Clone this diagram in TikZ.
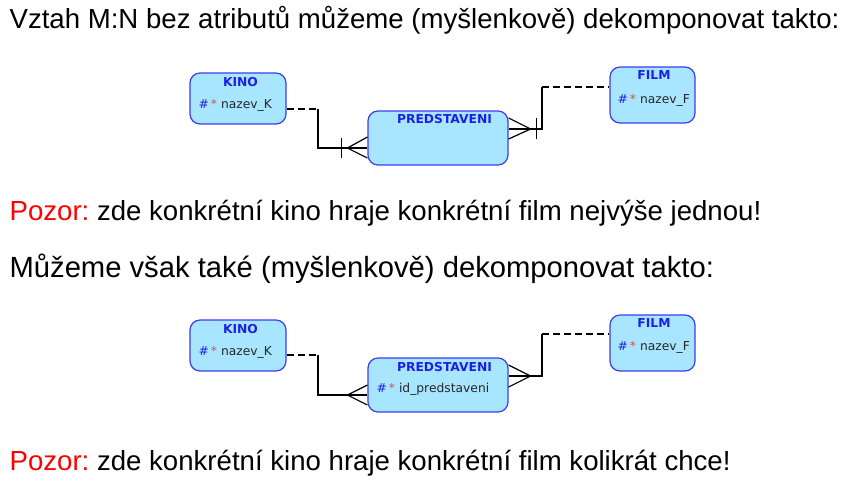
\documentclass[tikz,border=0pt]{standalone}
\usepackage{fontspec}
\setmainfont{Liberation Sans}
\newfontfamily\erfont{DejaVu Sans}
\definecolor{boxfill}{HTML}{A8E6FF}
\definecolor{boxline}{HTML}{3C3CF0}
\definecolor{titleblue}{HTML}{1E1EE8}
\definecolor{starred}{HTML}{D85050}
\newcommand{\attr}[1]{{\color{titleblue}\#}\,{\color{starred}*}\ {\color{black!85}#1}}
\frenchspacing

\begin{document}
\begin{tikzpicture}[
        x=1pt, y=-1pt,
        line width=1.2pt,
        entity/.style={draw=boxline, fill=boxfill, rounded corners=10pt, inner sep=0pt},
        entitle/.style={font=\erfont\bfseries\fontsize{12.3}{14}\selectfont, text=titleblue, inner sep=0pt},
        entattr/.style={font=\erfont\fontsize{12.3}{14}\selectfont, anchor=west, inner sep=0pt},
        optline/.style={dash pattern=on 7pt off 4pt},
        sentence/.style={font=\fontsize{27.6}{32}\selectfont, anchor=base west, inner sep=0pt}]
        \useasboundingbox (0,0) rectangle (845,480);

        % TEXT
        \node[sentence] (line1) at (9,28) {Vztah M:N bez atributů můžeme (myšlenkově) dekomponovat takto:};
        \node[sentence] (line2) at (9,220) {{\color{red}Pozor:} zde konkrétní kino hraje konkrétní film nejvýše jednou!};
        \node[sentence, font=\fontsize{29.2}{34}\selectfont] (line3) at (9,277) {Můžeme však také (myšlenkově) dekomponovat takto:};
        \node[sentence] (line4) at (9,470) {{\color{red}Pozor:} zde konkrétní kino hraje konkrétní film kolikrát chce!};

        % NODES (first diagram)
        % KINO
        \node[entity, minimum width=96pt, minimum height=51pt] (kinoA) at (238,98.5) {};
        \node[entitle] (kinoAt) at (240.5,82) {KINO};
        \node[entattr] (kinoAa) at (198,105) {\attr{nazev\_K}};
        % PREDSTAVENI
        \node[entity, minimum width=140pt, minimum height=54pt] (predA) at (438,138) {};
        \node[entitle] (predAt) at (444.5,119) {PREDSTAVENI};
        % FILM
        \node[entity, minimum width=85pt, minimum height=56pt] (filmA) at (652.5,95) {};
        \node[entitle] (filmAt) at (654,75) {FILM};
        \node[entattr] (filmAa) at (617,100) {\attr{nazev\_F}};

        % NODES (second diagram)
        % KINO
        \node[entity, minimum width=96pt, minimum height=51pt] (kinoB) at (238,345.5) {};
        \node[entitle] (kinoBt) at (240.5,329) {KINO};
        \node[entattr] (kinoBa) at (198,352) {\attr{nazev\_K}};
        % PREDSTAVENI
        \node[entity, minimum width=140pt, minimum height=54pt] (predB) at (438,385) {};
        \node[entitle] (predBt) at (444.5,367) {PREDSTAVENI};
        \node[entattr] (predBa) at (376,389) {\attr{id\_predstaveni}};
        % FILM
        \node[entity, minimum width=85pt, minimum height=56pt] (filmB) at (652.5,343) {};
        \node[entitle] (filmBt) at (654,323) {FILM};
        \node[entattr] (filmBa) at (617,347) {\attr{nazev\_F}};

        % bend points
        \coordinate (kA1) at (318,109);
        \coordinate (kA2) at (318,148);
        \coordinate (fA1) at (542,129);
        \coordinate (fA2) at (542,87);
        \coordinate (kB1) at (318,355);
        \coordinate (kB2) at (318,395);
        \coordinate (fB1) at (542,376);
        \coordinate (fB2) at (542,334);

        % ARROWS (first diagram)
        \draw[optline] (kinoA.east |- kA1) -- (kA1);
        \draw (kA1) -- (kA2) -- (predA.west |- kA2);
        \draw (predA.west |- kA2) ++(0,-11) -- ++(-20,11) -- ++(20,10);
        \draw (predA.west |- kA2) ++(-26,-10) -- ++(0,20);
        \draw (predA.east |- fA1) -- (fA1) -- (fA2);
        \draw[optline] (fA2) -- (filmA.west |- fA2);
        \draw (predA.east |- fA1) ++(0,-11) -- ++(22,11) -- ++(-22,10);
        \draw (predA.east |- fA1) ++(28,-11) -- ++(0,21);

        % ARROWS (second diagram)
        \draw[optline] (kinoB.east |- kB1) -- (kB1);
        \draw (kB1) -- (kB2) -- (predB.west |- kB2);
        \draw (predB.west |- kB2) ++(0,-10) -- ++(-20,10) -- ++(20,10);
        \draw (predB.east |- fB1) -- (fB1) -- (fB2);
        \draw[optline] (fB2) -- (filmB.west |- fB2);
        \draw (predB.east |- fB1) ++(0,-11) -- ++(22,11) -- ++(-22,11);
\end{tikzpicture}
\end{document}
